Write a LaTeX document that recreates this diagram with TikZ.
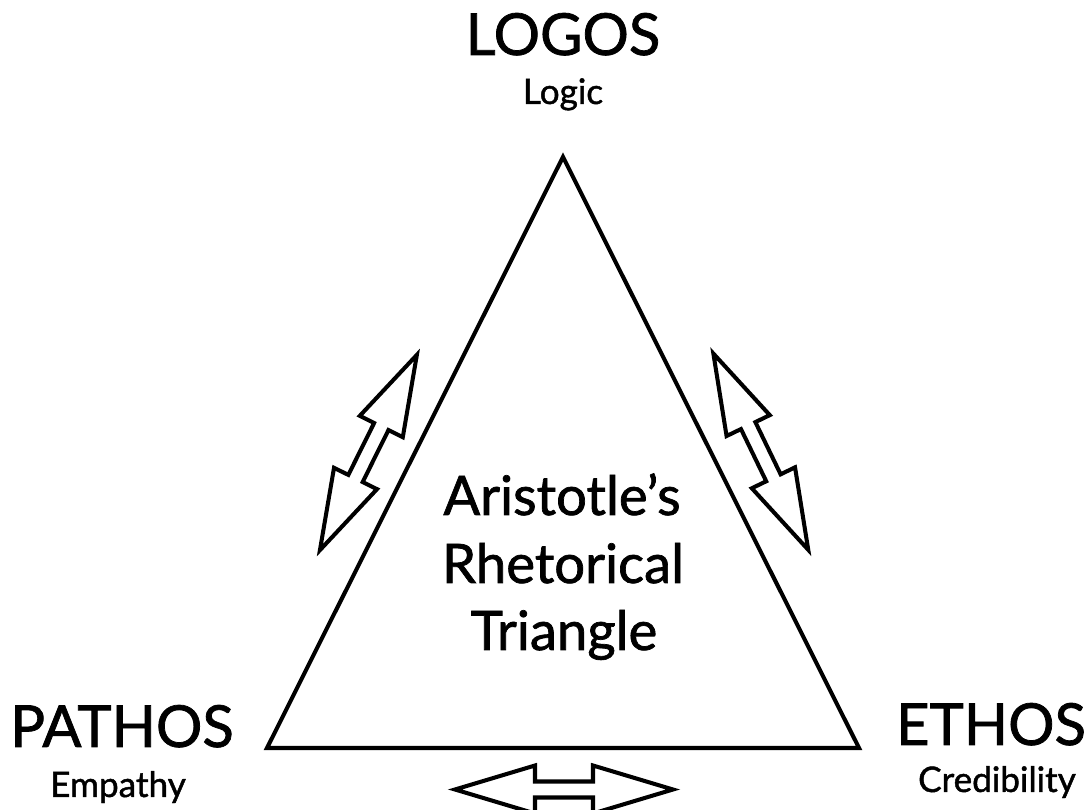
\documentclass[tikz,border=0pt]{standalone}
\usepackage{fontspec}
\setmainfont{Lato}[UprightFeatures={FakeBold=1.3}]
\usepackage{tikz}
\usetikzlibrary{calc}

\begin{document}
\begin{tikzpicture}[
    x=0.02cm, y=0.02cm,
    important line/.style={line width=2.3pt, line join=miter},
    big label/.style={anchor=base, inner sep=0pt, font=\fontsize{33}{36}\selectfont},
    small label/.style={anchor=base, inner sep=0pt, font=\fontsize{20}{24}\selectfont},
    centre label/.style={anchor=base, inner sep=0pt, font=\fontsize{31}{36}\selectfont},
    dbl arrow/.pic={
        \draw[important line, fill=white] (109,0) -- (29,24) -- (29,8) -- (-29,8)
            -- (-29,24) -- (-109,0) -- (-29,-24) -- (-29,-8) -- (29,-8)
            -- (29,-24) -- cycle;
    }
    ]
    \useasboundingbox (0,0) rectangle (1088,810);
    % Corners
    \coordinate (logos) at (563,653);
    \coordinate (pathos) at (267,62);
    \coordinate (ethos) at (859,62);
    % Triangle
    \draw[important line] (logos) -- (pathos) -- (ethos) -- cycle;
    % Labels
    \node[big label] (logosname) at (563,755) {LOGOS};
    \node[small label] (logostext) at (563,706) {Logic};
    \node[big label] (pathosname) at (122,63) {PATHOS};
    \node[small label] (pathostext) at (118,13) {Empathy};
    \node[big label] (ethosname) at (991,65) {ETHOS};
    \node[small label] (ethostext) at (997,18) {Credibility};
    % Title
    \node[centre label] (line1) at (562,295) {Aristotle’s};
    \node[centre label] (line2) at (563,227) {Rhetorical};
    \node[centre label] (line3) at (564,160) {Triangle};
    % Arrows
    \pic[rotate=63.6] at (368.4,357.5) {dbl arrow};
    \pic[rotate=115.8] at (760.8,358.3) {dbl arrow};
    \pic at (564,20.5) {dbl arrow};
\end{tikzpicture}
\end{document}
